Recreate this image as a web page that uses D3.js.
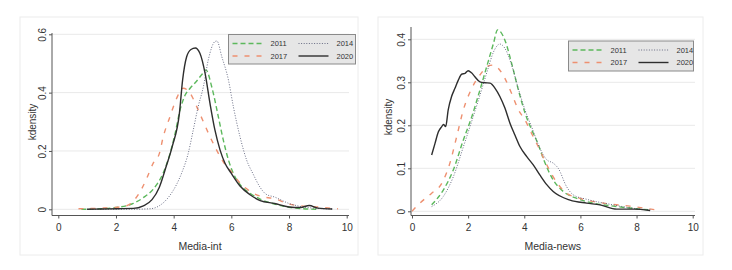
<!DOCTYPE html>
<html>
<head>
<meta charset="utf-8">
<script src="https://cdn.jsdelivr.net/npm/d3@7/dist/d3.min.js"></script>
<style>
  body { margin: 0; background: #fff; }
  svg { font-family: "Liberation Sans", Arial, sans-serif; }
</style>
</head>
<body>
<svg width="732" height="270"></svg>
<script>
// density curves, [value, density]
const int2011 = [[0.8,0],[1.5,0.002],[2.0,0.006],[2.6,0.02],[2.95,0.04],[3.3,0.07],[3.64,0.125],[3.87,0.19],[4.05,0.26],[4.22,0.34],[4.39,0.39],[4.57,0.415],[4.8,0.44],[5.0,0.465],[5.12,0.478],[5.32,0.42],[5.55,0.317],[5.72,0.238],[5.9,0.169],[6.07,0.123],[6.3,0.085],[6.65,0.055],[7.0,0.035],[7.5,0.018],[8.0,0.007],[8.5,0.002],[9.0,0]];
const int2014 = [[1.0,0],[2.5,0],[3.2,0.002],[3.5,0.012],[3.85,0.045],[4.1,0.085],[4.3,0.13],[4.5,0.19],[4.68,0.272],[4.85,0.352],[5.03,0.42],[5.2,0.512],[5.43,0.575],[5.5,0.577],[5.67,0.523],[5.9,0.443],[6.07,0.352],[6.3,0.249],[6.53,0.169],[6.76,0.12],[7.0,0.075],[7.2,0.052],[7.5,0.042],[8.0,0.02],[8.5,0.008],[9.0,0.003],[9.5,0.001]];
const int2017 = [[0.7,0.002],[1.5,0.004],[1.91,0.006],[2.37,0.012],[2.66,0.035],[2.89,0.07],[3.06,0.105],[3.3,0.16],[3.5,0.19],[3.64,0.249],[3.87,0.317],[4.1,0.38],[4.33,0.415],[4.57,0.398],[4.8,0.352],[5.03,0.3],[5.26,0.249],[5.49,0.203],[5.72,0.163],[5.95,0.135],[6.3,0.09],[6.6,0.065],[7.0,0.045],[7.5,0.036],[8.0,0.018],[8.5,0.011],[9.0,0.008],[9.5,0.003],[9.7,0.002]];
const int2020 = [[1.0,0],[1.5,0.001],[2.0,0.002],[2.6,0.003],[2.95,0.012],[3.25,0.033],[3.5,0.075],[3.75,0.15],[3.95,0.215],[4.2,0.33],[4.31,0.443],[4.45,0.523],[4.6,0.548],[4.75,0.553],[4.91,0.535],[5.09,0.466],[5.26,0.363],[5.43,0.272],[5.61,0.203],[5.78,0.158],[6.0,0.123],[6.3,0.08],[6.65,0.05],[7.0,0.03],[7.5,0.02],[8.0,0.008],[8.4,0.006],[8.7,0.013],[9.0,0.004],[9.5,0.001]];

const news2011 = [[0.7,0.015],[1.12,0.05],[1.47,0.096],[1.83,0.166],[2.13,0.22],[2.42,0.282],[2.66,0.336],[2.9,0.39],[3.05,0.422],[3.31,0.398],[3.55,0.344],[3.79,0.282],[4.03,0.228],[4.26,0.19],[4.5,0.155],[4.68,0.122],[5.03,0.073],[5.39,0.046],[5.87,0.03],[6.46,0.019],[7.17,0.012],[8.0,0.006],[8.5,0.003]];
const news2014 = [[0.7,0.011],[1.12,0.035],[1.47,0.08],[1.83,0.15],[2.13,0.21],[2.42,0.27],[2.7,0.33],[2.9,0.37],[3.13,0.389],[3.3,0.38],[3.55,0.34],[3.79,0.285],[4.03,0.235],[4.3,0.19],[4.5,0.155],[4.8,0.12],[5.03,0.112],[5.21,0.1],[5.51,0.057],[5.75,0.038],[6.22,0.028],[7.0,0.017],[8.0,0.006],[8.5,0.003]];
const news2017 = [[0,0],[0.28,0.019],[0.7,0.042],[1.06,0.065],[1.35,0.112],[1.59,0.173],[1.83,0.236],[2.13,0.286],[2.42,0.317],[2.72,0.338],[2.9,0.34],[3.07,0.333],[3.31,0.309],[3.55,0.274],[3.79,0.236],[4.03,0.212],[4.26,0.181],[4.5,0.15],[4.75,0.115],[5.03,0.08],[5.51,0.042],[5.99,0.03],[6.82,0.019],[7.76,0.012],[8.84,0.002]];
const news2020 = [[0.7,0.131],[0.82,0.158],[0.94,0.185],[1.06,0.197],[1.12,0.202],[1.2,0.197],[1.29,0.236],[1.41,0.267],[1.53,0.286],[1.65,0.305],[1.77,0.319],[1.89,0.321],[2.0,0.327],[2.12,0.322],[2.24,0.313],[2.42,0.301],[2.6,0.299],[2.78,0.298],[2.96,0.286],[3.13,0.267],[3.31,0.24],[3.49,0.205],[3.67,0.177],[3.85,0.15],[4.09,0.127],[4.32,0.108],[4.56,0.084],[4.8,0.062],[5.03,0.046],[5.63,0.026],[6.22,0.019],[6.7,0.015],[7.29,0.005],[7.89,0.005],[8.48,0.002]];

const years = ["2011", "2014", "2017", "2020"];
const xTicks = [0, 2, 4, 6, 8, 10];
const intTicks = [0, 0.2, 0.4, 0.6];
const newsTicks = [0, 0.1, 0.2, 0.3, 0.4];

// line styles per year
const styles = {
  "2011": { color: "#5cb85c", width: 1.4, dash: "5,3" },
  "2014": { color: "#5a5f78", width: 0.9, dash: "1,1.6" },
  "2017": { color: "#ee9070", width: 1.4, dash: "5,7" },
  "2020": { color: "#2e2e2e", width: 1.4, dash: null }
};

const svg = d3.select("svg");

function drawPanel(p) {
  const g = svg.append("g");

  // light frame of the graph
  g.append("rect")
    .attr("x", p.frame[0]).attr("y", p.frame[1])
    .attr("width", p.frame[2]).attr("height", p.frame[3])
    .attr("fill", "#fff").attr("stroke", "#ececec");

  const x = d3.scaleLinear().domain([0, 10]).range(p.xr);
  const y = d3.scaleLinear().domain([0, p.ymax]).range(p.yr);

  // grid
  g.selectAll(".grid").data(p.yticks).enter().append("line")
    .attr("x1", p.axX).attr("x2", p.axEnd)
    .attr("y1", d => y(d)).attr("y2", d => y(d))
    .attr("stroke", "#e9e9e9");

  // axes
  const xa = g.append("g").attr("transform", `translate(0,${p.axY})`)
    .call(d3.axisBottom(x).tickValues(xTicks).tickSize(3).tickPadding(5).tickSizeOuter(0));
  xa.select(".domain").attr("d", `M${p.axX},0H${p.axEnd}`);

  const ya = g.append("g").attr("transform", `translate(${p.axX},0)`)
    .call(d3.axisLeft(y).tickValues(p.yticks).tickSize(3).tickSizeOuter(0)
      .tickFormat(d => d === 0 ? "0" : d3.format(".1f")(d)));
  ya.select(".domain").attr("d", `M0,${p.axTop}V${p.axY}`);
  ya.selectAll("text")
    .attr("x", 0).attr("dy", "0.35em")
    .attr("text-anchor", "middle")
    .attr("transform", "translate(-10,0) rotate(-90)");

  [xa, ya].forEach(a => {
    a.selectAll(".domain, line").attr("stroke", "#555");
    a.selectAll("text").attr("font-size", 10).attr("fill", "#333")
      .attr("font-family", "'Liberation Sans', Arial, sans-serif");
  });

  // curves
  const line = d3.line()
    .x(d => x(d[0])).y(d => y(d[1]))
    .curve(d3.curveMonotoneX);

  ["2011", "2017", "2014", "2020"].forEach(yr => {
    const s = styles[yr];
    g.append("path")
      .datum(p.series[yr])
      .attr("d", line)
      .attr("fill", "none")
      .attr("stroke", s.color)
      .attr("stroke-width", s.width)
      .attr("stroke-dasharray", s.dash);
  });

  // titles
  g.append("text")
    .attr("x", p.xTitle[0]).attr("y", p.xTitle[1])
    .attr("text-anchor", "middle").attr("font-size", 10.5).attr("fill", "#333")
    .text(p.xlabel);
  g.append("text")
    .attr("transform", `translate(${p.yTitle[0]},${p.yTitle[1]}) rotate(-90)`)
    .attr("text-anchor", "middle").attr("font-size", 10).attr("fill", "#333")
    .text("kdensity");

  // legend
  const L = p.legend;
  const lg = g.append("g").attr("transform", `translate(${L[0]},${L[1]})`);
  lg.append("rect").attr("width", L[2]).attr("height", L[3])
    .attr("fill", "#e6e6e6").attr("stroke", "#8a8a8a");
  years.forEach((yr, i) => {
    const col = i % 2, row = Math.floor(i / 2);
    const s = styles[yr];
    const lx = 4 + col * 66, ly = 9 + row * 12.5;
    lg.append("line")
      .attr("x1", lx).attr("x2", lx + 30)
      .attr("y1", ly).attr("y2", ly)
      .attr("stroke", s.color).attr("stroke-width", s.width)
      .attr("stroke-dasharray", s.dash);
    lg.append("text")
      .attr("x", lx + 38).attr("y", ly + 2.6)
      .attr("font-size", 7.5).attr("fill", "#333")
      .text(yr);
  });
}

drawPanel({
  frame: [20, 17, 338, 238],
  xr: [58.3, 346.7], yr: [209.3, 34.3], ymax: 0.6,
  axX: 52, axEnd: 349, axY: 215.5, axTop: 33,
  yticks: intTicks,
  xlabel: "Media-int", xTitle: [200, 250], yTitle: [36, 122],
  legend: [228.5, 34.5, 127, 29.5],
  series: { "2011": int2011, "2014": int2014, "2017": int2017, "2020": int2020 }
});

drawPanel({
  frame: [378, 17, 325, 238],
  xr: [412, 692.7], yr: [211.3, 39.3], ymax: 0.4,
  axX: 411, axEnd: 695, axY: 215.5, axTop: 27,
  yticks: newsTicks,
  xlabel: "Media-news", xTitle: [552.7, 250], yTitle: [392, 117],
  legend: [568.5, 41, 125, 30],
  series: { "2011": news2011, "2014": news2014, "2017": news2017, "2020": news2020 }
});
</script>
</body>
</html>
